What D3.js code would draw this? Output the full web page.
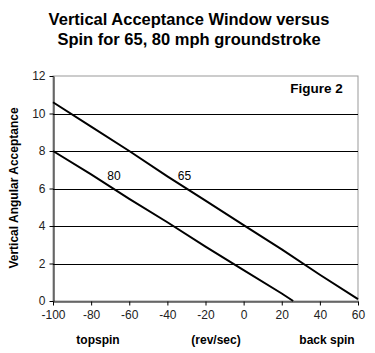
<!DOCTYPE html>
<html>
<head>
<meta charset="utf-8">
<script src="https://cdn.jsdelivr.net/npm/d3@7"></script>
<style>
body{margin:0;background:#fff;}
svg{display:block;font-family:"Liberation Sans",Arial,sans-serif;}
</style>
</head>
<body>
<div id="chart"></div>
<script>
(function(){

const width = 375;
const height = 353;
const margin = {top:76,right:17,bottom:52,left:53};

// data
const spin65 = [-100,-80,-60,-40,-20,0,20,40,60];
const accept65 = [10.6,9.3,8.0,6.65,5.35,4.05,2.75,1.4,0.1];
const spin80 = [-100,-80,-60,-40,-20,0,20,26];
const accept80 = [8.0,6.75,5.45,4.2,2.9,1.65,0.4,0];
const xTicks = [-100,-80,-60,-40,-20,0,20,40,60];
const yTicks = [0,2,4,6,8,10,12];

const svg = d3.select("#chart")
.append("svg")
.attr("width",width)
.attr("height",height);

const x = d3.scaleLinear()
.domain([-100,60])
.range([margin.left,width-margin.right]);

const y = d3.scaleLinear()
.domain([0,12])
.range([height-margin.bottom,margin.top]);

// plot border
svg.append("rect")
.attr("x",x(-100))
.attr("y",y(12))
.attr("width",x(60)-x(-100))
.attr("height",y(0)-y(12))
.attr("fill","none")
.attr("stroke","#999")
.attr("stroke-width",1);

// gridlines
svg.append("g")
.selectAll("line")
.data(yTicks.filter(d=>d>0 && d<12))
.enter()
.append("line")
.attr("x1",x(-100))
.attr("x2",x(60))
.attr("y1",d=>Math.round(y(d))+0.5)
.attr("y2",d=>Math.round(y(d))+0.5)
.attr("stroke","#000");

// axes (plain hyphen for negatives, like the original)
const fmt = d=>String(d);

const xAxis = svg.append("g")
.attr("transform",`translate(0,${Math.round(y(0))+0.5})`)
.call(d3.axisBottom(x).tickValues(xTicks).tickFormat(fmt).tickSize(4).tickSizeOuter(0).tickPadding(5));

const yAxis = svg.append("g")
.attr("transform",`translate(${Math.round(x(-100))+0.5},0)`)
.call(d3.axisLeft(y).tickValues(yTicks).tickFormat(fmt).tickSize(4).tickSizeOuter(0).tickPadding(4));

[xAxis,yAxis].forEach(g=>{
g.selectAll("text").attr("font-size","12px").attr("fill","#222").style("font-family","inherit");
g.select(".domain").attr("stroke","#000");
g.selectAll(".tick line").attr("stroke","#000");
});

// lines
const line = d3.line()
.x(d=>x(d[0]))
.y(d=>y(d[1]));

svg.append("path")
.datum(d3.zip(spin65,accept65))
.attr("d",line)
.attr("fill","none")
.attr("stroke","#000")
.attr("stroke-width",2);

svg.append("path")
.datum(d3.zip(spin80,accept80))
.attr("d",line)
.attr("fill","none")
.attr("stroke","#000")
.attr("stroke-width",2);

// line labels
svg.append("text")
.attr("x",x(-71.5))
.attr("y",y(6.45))
.attr("font-size","12px")
.text("80");

svg.append("text")
.attr("x",x(-34.5))
.attr("y",y(6.45))
.attr("font-size","12px")
.text("65");

svg.append("text")
.attr("x",x(52))
.attr("y",y(11.1))
.attr("text-anchor","end")
.attr("font-size","13.5px")
.attr("font-weight","bold")
.text("Figure 2");

// title
svg.append("text")
.attr("x",189)
.attr("y",25)
.attr("text-anchor","middle")
.attr("font-size","16.5px")
.attr("font-weight","bold")
.text("Vertical Acceptance Window versus");

svg.append("text")
.attr("x",189)
.attr("y",45)
.attr("text-anchor","middle")
.attr("font-size","16.5px")
.attr("font-weight","bold")
.text("Spin for 65, 80 mph groundstroke");

// x labels
const xLabels = [["topspin",98],["(rev/sec)",216],["back spin",327]];
svg.selectAll(".xlab")
.data(xLabels)
.enter()
.append("text")
.attr("x",d=>d[1])
.attr("y",344)
.attr("text-anchor","middle")
.attr("font-size","12px")
.attr("font-weight","bold")
.text(d=>d[0]);

// y label
svg.append("text")
.attr("transform","rotate(-90)")
.attr("x",-188)
.attr("y",18)
.attr("text-anchor","middle")
.attr("font-size","12px")
.attr("font-weight","bold")
.text("Vertical Angular Acceptance");

})();
</script>
</body>
</html>
